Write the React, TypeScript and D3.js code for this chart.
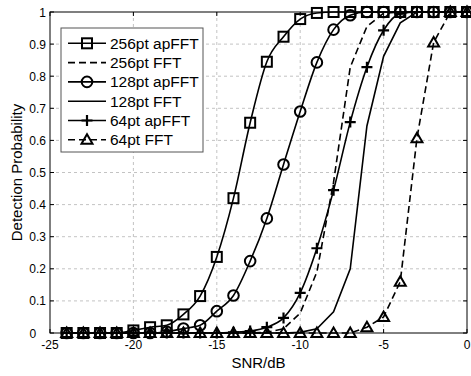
import * as d3 from "d3";

const snr = [-24, -23, -22, -21, -20, -19, -18, -17, -16, -15, -14, -13, -12, -11, -10, -9, -8, -7, -6, -5, -4, -3, -2, -1, 0];

const ap256 = [0, 0, 0, 0, 0.008, 0.018, 0.024, 0.058, 0.115, 0.237, 0.42, 0.655, 0.845, 0.923, 0.978, 0.997, 1, 1, 1, 1, 1, 1, 1, 1, 1];
const fft256 = [0, 0, 0, 0, 0, 0, 0, 0, 0, 0, 0, 0, 0.002, 0.013, 0.062, 0.19, 0.47, 0.828, 0.955, 0.996, 1, 1, 1, 1, 1];
const ap128 = [0, 0, 0, 0, 0, 0, 0.004, 0.014, 0.024, 0.068, 0.117, 0.224, 0.357, 0.525, 0.69, 0.843, 0.945, 0.99, 1, 1, 1, 1, 1, 1, 1];
const fft128 = [0, 0, 0, 0, 0, 0, 0, 0, 0, 0, 0, 0, 0, 0, 0.002, 0.013, 0.066, 0.2, 0.645, 0.862, 0.966, 1, 1, 1, 1];
const ap64 = [0, 0, 0, 0, 0, 0, 0, 0, 0, 0, 0.002, 0.006, 0.018, 0.047, 0.125, 0.264, 0.445, 0.657, 0.828, 0.943, 0.995, 1, 1, 1, 1];
const fft64 = [0, 0, 0, 0, 0, 0, 0, 0, 0, 0, 0, 0, 0, 0, 0, 0, 0, 0, 0.018, 0.05, 0.16, 0.607, 0.905, 1, 1];

const seriesNames = ["256pt apFFT", "256pt FFT", "128pt apFFT", "128pt FFT", "64pt apFFT", "64pt FFT"];
const xTicks = [-25, -20, -15, -10, -5, 0];
const yTicks = [0, 0.1, 0.2, 0.3, 0.4, 0.5, 0.6, 0.7, 0.8, 0.9, 1];

const series = [
  { name: seriesNames[0], values: ap256, dash: null, marker: "square", smooth: true },
  { name: seriesNames[1], values: fft256, dash: "7,4", marker: null, smooth: false },
  { name: seriesNames[2], values: ap128, dash: null, marker: "circle", smooth: true },
  { name: seriesNames[3], values: fft128, dash: null, marker: null, smooth: false },
  { name: seriesNames[4], values: ap64, dash: null, marker: "plus", smooth: true },
  { name: seriesNames[5], values: fft64, dash: "7,4", marker: "triangle", smooth: false },
];

const W = 471;
const H = 376;
const FONT = "'Liberation Sans', Arial, Helvetica, sans-serif";

function Marker({ type, x, y }: { type: string | null; x: number; y: number }) {
  const s = 2;
  if (type === "square") {
    return <rect x={x - 5} y={y - 5} width={10} height={10} fill="none" stroke="#000" strokeWidth={s} />;
  }
  if (type === "circle") {
    return <circle cx={x} cy={y} r={5.3} fill="none" stroke="#000" strokeWidth={s} />;
  }
  if (type === "plus") {
    return (
      <path d={`M${x - 5.5},${y}H${x + 5.5}M${x},${y - 5.5}V${y + 5.5}`} stroke="#000" strokeWidth={2.2} fill="none" />
    );
  }
  if (type === "triangle") {
    return (
      <path d={`M${x},${y - 5.5}L${x + 5.5},${y + 4}L${x - 5.5},${y + 4}Z`} fill="none" stroke="#000" strokeWidth={s} />
    );
  }
  return null;
}

export default function App() {
  const x = d3.scaleLinear().domain([-25, 0]).range([50, 467]);
  const y = d3.scaleLinear().domain([0, 1]).range([333, 12]);

  const [x0, x1] = x.range();
  const [y0, y1] = y.range();

  const lineSmooth = d3
    .line<number>()
    .x((_, i) => x(snr[i]))
    .y((d) => y(d))
    .curve(d3.curveMonotoneX);
  const lineStraight = d3
    .line<number>()
    .x((_, i) => x(snr[i]))
    .y((d) => y(d));

  const legX = 61;
  const legY = 28;
  const legRow = 19.3;

  return (
    <svg
      width={W}
      height={H}
      style={{ position: "absolute", left: 0, top: 0, background: "#fff" }}
      fontFamily={FONT}
    >
      {/* grid */}
      <g stroke="#b4b4b4" strokeWidth={0.8} strokeDasharray="3,3">
        {xTicks.slice(1, -1).map((t) => (
          <line key={"gx" + t} x1={x(t)} x2={x(t)} y1={y0} y2={y1} />
        ))}
        {yTicks.slice(1, -1).map((t) => (
          <line key={"gy" + t} x1={x0} x2={x1} y1={y(t)} y2={y(t)} />
        ))}
      </g>

      {/* axes box and ticks */}
      <rect x={x0} y={y1} width={x1 - x0} height={y0 - y1} fill="none" stroke="#000" strokeWidth={1} />
      <g stroke="#000" strokeWidth={1}>
        {xTicks.map((t) => (
          <g key={"tx" + t}>
            <line x1={x(t)} x2={x(t)} y1={y0} y2={y0 - 4} />
            <line x1={x(t)} x2={x(t)} y1={y1} y2={y1 + 4} />
          </g>
        ))}
        {yTicks.map((t) => (
          <g key={"ty" + t}>
            <line x1={x0} x2={x0 + 4} y1={y(t)} y2={y(t)} />
            <line x1={x1} x2={x1 - 4} y1={y(t)} y2={y(t)} />
          </g>
        ))}
      </g>

      {/* tick labels */}
      <g fontSize={12} fill="#000">
        {xTicks.map((t) => (
          <text key={"lx" + t} x={x(t)} y={y0 + 16} textAnchor="middle">
            {t}
          </text>
        ))}
        {yTicks.map((t) => (
          <text
            key={"ly" + t}
            x={t === 0 ? x0 - 20.5 : x0 - 4}
            y={y(t) + 4.5}
            textAnchor={t === 0 ? "start" : "end"}
          >
            {t}
          </text>
        ))}
      </g>

      {/* axis labels */}
      <text x={(x0 + x1) / 2} y={368} fontSize={15} textAnchor="middle">
        SNR/dB
      </text>
      <text
        transform={`translate(22,${(y0 + y1) / 2}) rotate(-90)`}
        fontSize={15}
        textAnchor="middle"
      >
        Detection Probability
      </text>

      {/* data lines */}
      {series.map((s) => (
        <path
          key={"p" + s.name}
          d={(s.smooth ? lineSmooth : lineStraight)(s.values) || ""}
          fill="none"
          stroke="#000"
          strokeWidth={1.6}
          strokeDasharray={s.dash || undefined}
        />
      ))}
      {series.map((s) =>
        s.marker
          ? s.values.map((v, i) => <Marker key={s.name + i} type={s.marker} x={x(snr[i])} y={y(v)} />)
          : null
      )}

      {/* legend */}
      <rect x={legX} y={legY} width={142} height={124} fill="#fff" stroke="#555" strokeWidth={1} />
      {series.map((s, i) => {
        const cy = legY + 15.3 + i * legRow;
        return (
          <g key={"leg" + s.name}>
            <line
              x1={legX + 7}
              x2={legX + 45}
              y1={cy}
              y2={cy}
              stroke="#000"
              strokeWidth={1.6}
              strokeDasharray={s.dash || undefined}
            />
            <Marker type={s.marker} x={legX + 26} y={cy} />
            <text x={legX + 49} y={cy + 5.4} fontSize={15.5}>
              {s.name}
            </text>
          </g>
        );
      })}
    </svg>
  );
}
